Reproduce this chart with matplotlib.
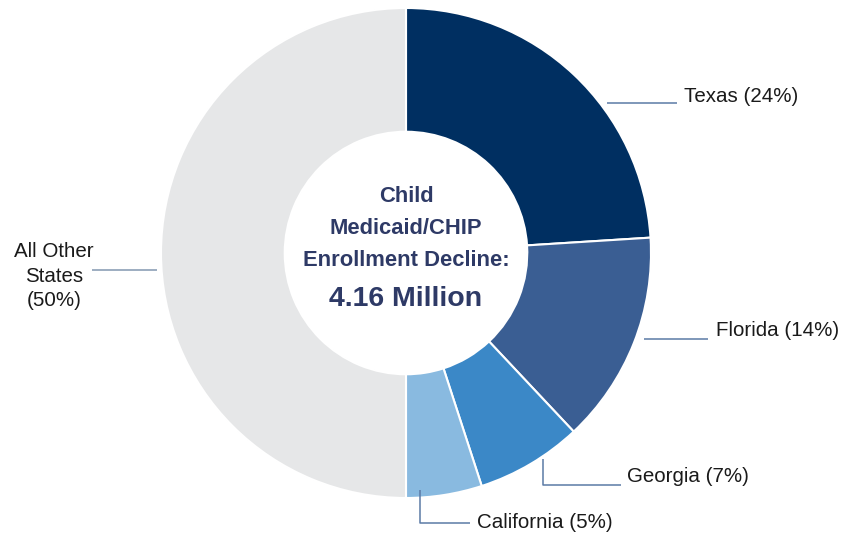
import matplotlib
matplotlib.use("Agg")
import matplotlib.pyplot as plt

plt.rcParams['font.family'] = ['Liberation Sans', 'DejaVu Sans']

states = ["Texas", "Florida", "Georgia", "California", "All Other States"]
shares = [24, 14, 7, 5, 50]
colors = ["#002f61", "#3a5e93", "#3b88c7", "#89bae0", "#e6e7e8"]
labels = ["Texas (24%)", "Florida (14%)", "Georgia (7%)", "California (5%)", "All Other\nStates\n(50%)"]
center_lines = ["Child", "Medicaid/CHIP", "Enrollment Decline:"]
total_text = "4.16 Million"

W, H = 847, 533
fig = plt.figure(figsize=(W / 100, H / 100), dpi=100)
ax = fig.add_axes([0, 0, 1, 1])

cx, cy, r = 406, H - 253, 245
ax.pie(shares, colors=colors, startangle=90, counterclock=False,
       center=(cx, cy), radius=r, frame=True,
       wedgeprops=dict(width=r * 0.505, edgecolor='white', linewidth=1.5))
ax.set_xlim(0, W)
ax.set_ylim(0, H)
ax.set_aspect('equal')
ax.axis('off')

# leader lines (pixel coords, y from top)
lc = "#5b7aa6"
def seg(xs, ys, c=lc):
    ax.plot(xs, [H - y for y in ys], color=c, lw=1.1, solid_capstyle='butt')

seg([607, 677], [103, 103])
seg([644, 708], [339, 339])
seg([543, 543, 621], [459, 485, 485])
seg([420, 420, 470], [490, 523, 523])
seg([92, 157], [270, 270], c="#8397b0")

fs = 14.8
tc = "#1a1a1a"
ax.text(684, H - 96, labels[0], fontsize=fs, color=tc, va='center', ha='left')
ax.text(716, H - 331, labels[1], fontsize=fs, color=tc, va='center', ha='left')
ax.text(627, H - 477, labels[2], fontsize=fs, color=tc, va='center', ha='left')
ax.text(477, H - 522, labels[3], fontsize=fs, color=tc, va='center', ha='left')
ax.text(54, H - 276, labels[4], fontsize=fs, color=tc, va='center', ha='center',
        linespacing=1.35)

nc = "#2e3a66"
for txt, y in zip(center_lines, [196, 228, 260]):
    ax.text(cx, H - y, txt, fontsize=15.8, color=nc, ha='center', va='center',
            fontweight='bold')
ax.text(cx, H - 299, total_text, fontsize=20.5, color=nc, ha='center', va='center',
        fontweight='bold')

fig.savefig("out.png", dpi=100)
